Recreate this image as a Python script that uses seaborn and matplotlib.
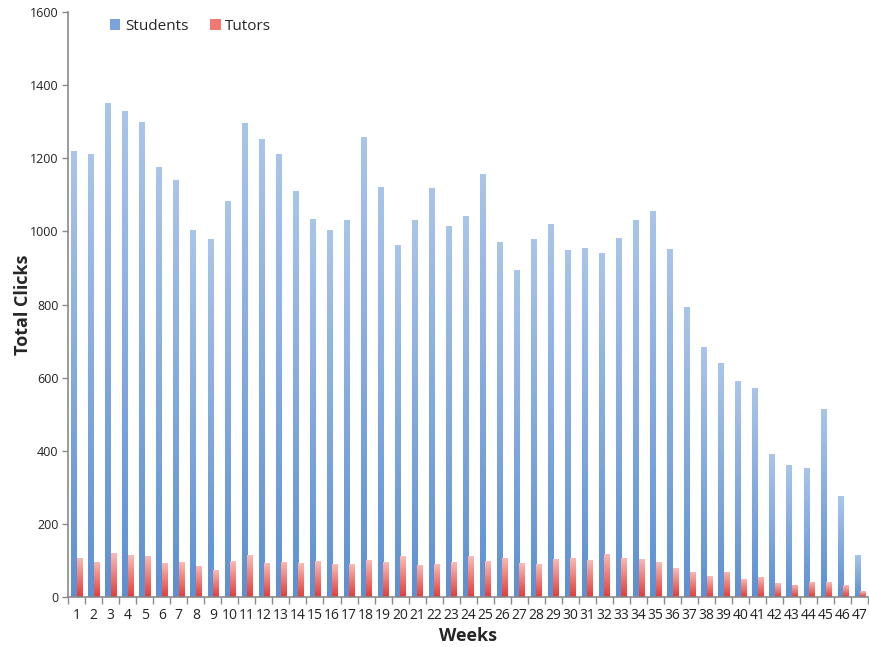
import numpy as np
import pandas as pd
import matplotlib
matplotlib.use("Agg")
import matplotlib.pyplot as plt
from matplotlib.colors import LinearSegmentedColormap
import seaborn as sns

weeks = [str(w) for w in range(1, 48)]

students = [1220, 1212, 1352, 1330, 1298, 1175, 1140, 1003, 978, 1082,
            1297, 1252, 1213, 1110, 1035, 1005, 1032, 1257, 1122, 963,
            1030, 1118, 1015, 1042, 1157, 970, 895, 978, 1020, 950,
            955, 942, 982, 1030, 1055, 953, 793, 683, 640, 590,
            572, 390, 362, 354, 515, 275, 115]

tutors = [108, 97, 120, 114, 112, 94, 95, 86, 73, 98,
          114, 93, 96, 93, 98, 89, 91, 102, 95, 112,
          88, 90, 95, 112, 98, 107, 92, 90, 105, 107,
          102, 118, 107, 104, 95, 79, 69, 57, 69, 50,
          56, 37, 33, 42, 40, 32, 16]

groups = ["Students", "Tutors"]
yticks = [0, 200, 400, 600, 800, 1000, 1200, 1400, 1600]

df = pd.DataFrame({
    "Week": weeks * 2,
    "Group": [groups[0]] * len(weeks) + [groups[1]] * len(weeks),
    "Clicks": students + tutors,
})

sns.set_theme(style="white")
plt.rcParams["font.family"] = ["Open Sans", "DejaVu Sans"]

fig = plt.figure(figsize=(8.69, 6.47), dpi=100)
ax = fig.add_axes([0.0783, 0.0773, 0.921, 0.904])

base = {"Students": "#7aa3dc", "Tutors": "#f07a72"}
sns.barplot(data=df, x="Week", y="Clicks", hue="Group", order=weeks,
            hue_order=groups, palette=base, width=0.62, gap=0,
            saturation=1, ax=ax, legend=True)

# vertical gradient fill inside each bar
grad = {
    "Students": LinearSegmentedColormap.from_list("s", ["#5d90d2", "#aac5ea"]),
    "Tutors": LinearSegmentedColormap.from_list("t", ["#e23c36", "#fbbcb6"]),
}
bars = [p for p in ax.patches if p.get_height() > 0]
n = len(weeks)
for i, p in enumerate(bars):
    cmap = grad[groups[0]] if i < n else grad[groups[1]]
    x0, w, h = p.get_x(), p.get_width(), p.get_height()
    img = np.linspace(0, 1, 256).reshape(-1, 1)
    im = ax.imshow(img, cmap=cmap, origin="lower", aspect="auto",
                   extent=[x0, x0 + w, 0, h], zorder=p.get_zorder(),
                   interpolation="bilinear")
    im.set_clip_path(p)
    p.set_facecolor("none")
    p.set_edgecolor("none")

ax.set_xlim(-0.5, n - 0.5)
ax.set_ylim(0, 1600)
ax.set_yticks(yticks)
ax.set_yticklabels([str(v) for v in yticks], fontsize=9, color="#222222")

# category separators as tick marks on the x axis
ax.set_xticks(np.arange(n))
ax.set_xticklabels(weeks, fontsize=10, color="#222222")
ax.set_xticks(np.arange(-0.5, n, 1.0), minor=True)
ax.tick_params(axis="x", which="major", length=0, pad=8)
ax.tick_params(axis="x", which="minor", length=5, width=1, color="#8a8a8a",
               bottom=True, direction="out")
ax.tick_params(axis="y", which="major", length=4, width=1, color="#8a8a8a",
               left=True, direction="out", pad=3)

for side in ["top", "right"]:
    ax.spines[side].set_visible(False)
for side in ["left", "bottom"]:
    ax.spines[side].set_color("#8a8a8a")
    ax.spines[side].set_linewidth(1.2)

ax.set_xlabel("Weeks", fontsize=13, fontweight="bold")
ax.set_ylabel("Total Clicks", fontsize=13, fontweight="bold")
ax.xaxis.set_label_coords(0.5, -0.066)
ax.yaxis.set_label_coords(-0.056, 0.5)
ax.xaxis.label.set_va("center")
ax.yaxis.label.set_va("center")

leg = ax.legend(loc="upper left", bbox_to_anchor=(0.035, 1.012), ncol=2,
                frameon=False, fontsize=11, handlelength=0.7,
                handleheight=0.7, handletextpad=0.3, columnspacing=1.4)
for h, g in zip(leg.legend_handles, groups):
    h.set_facecolor(base[g])
    h.set_edgecolor("none")

fig.savefig("out.png", dpi=100)
